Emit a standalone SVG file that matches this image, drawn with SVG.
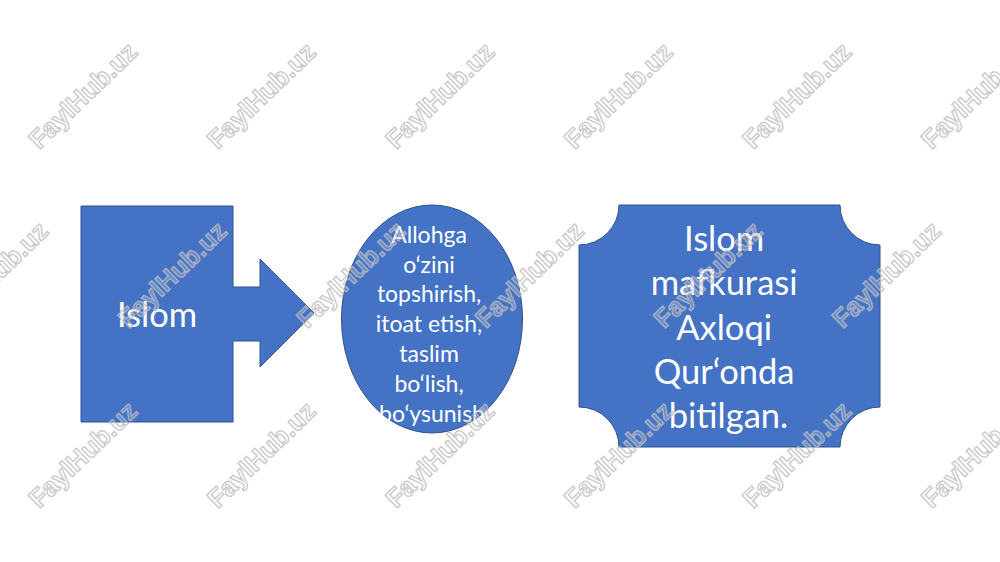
<svg xmlns="http://www.w3.org/2000/svg" width="1000" height="562" viewBox="0 0 1000 562">
<style>
.shape{fill:#4472C4;stroke:#2F528F;stroke-width:1}
.lbl{font-family:Lato,"Open Sans","Liberation Sans",sans-serif;fill:#ffffff;text-anchor:middle}
.big{font-size:34.5px}
.small{font-size:23px}
.wm{font-family:"Liberation Sans",Arial,sans-serif;font-weight:bold;font-size:26px;fill:#ffffff;fill-opacity:0.2;stroke:#bdbdbd;stroke-opacity:0.8;stroke-width:1.4;text-anchor:middle}
</style>
<rect width="1000" height="562" fill="#ffffff"/>
<g id="node-islom">
<path class="shape" d="M81,206 H233 V287 H260 V259 L314,313 L260,367 V341 H233 V422 H81 Z"/>
<text class="lbl big" x="157" y="327">Islom</text>
</g>
<g id="connectors"></g>
<g id="node-allohga">
<ellipse class="shape" cx="432" cy="319" rx="90.5" ry="114"/>
<text class="lbl small">
<tspan x="432" y="242.7">Allohga</tspan>
<tspan x="432" y="272.5">o‘zini</tspan>
<tspan x="432" y="302.3">topshirish,</tspan>
<tspan x="432" y="332.1">itoat etish,</tspan>
<tspan x="432" y="361.9">taslim</tspan>
<tspan x="432" y="391.7">bo‘lish,</tspan>
<tspan x="432" y="421.5">bo‘ysunish</tspan>
</text>
</g>
<g id="node-mafkura">
<path class="shape" d="M619,205 H840 A40,40 0 0 0 880,245 V407 A40,40 0 0 0 840,447 H619 A40,40 0 0 0 579,407 V245 A40,40 0 0 0 619,205 Z"/>
<text class="lbl big">
<tspan x="728.5" y="251">Islom</tspan>
<tspan x="728.5" y="295.3">mafkurasi</tspan>
<tspan x="728.5" y="339.6">Axloqi</tspan>
<tspan x="728.5" y="383.9">Qur‘onda</tspan>
<tspan x="728.5" y="428.2">bitilgan.</tspan>
</text>
</g>
<g id="watermarks">
<text class="wm" transform="translate(89,102) rotate(-44)">FaylHub.uz</text>
<text class="wm" transform="translate(267.5,102) rotate(-44)">FaylHub.uz</text>
<text class="wm" transform="translate(446,102) rotate(-44)">FaylHub.uz</text>
<text class="wm" transform="translate(624.5,102) rotate(-44)">FaylHub.uz</text>
<text class="wm" transform="translate(803,102) rotate(-44)">FaylHub.uz</text>
<text class="wm" transform="translate(981.5,102) rotate(-44)">FaylHub.uz</text>
<text class="wm" transform="translate(0,281) rotate(-44)">FaylHub.uz</text>
<text class="wm" transform="translate(178.5,281) rotate(-44)">FaylHub.uz</text>
<text class="wm" transform="translate(357,281) rotate(-44)">FaylHub.uz</text>
<text class="wm" transform="translate(535.5,281) rotate(-44)">FaylHub.uz</text>
<text class="wm" transform="translate(714,281) rotate(-44)">FaylHub.uz</text>
<text class="wm" transform="translate(892.5,281) rotate(-44)">FaylHub.uz</text>
<text class="wm" transform="translate(89,461) rotate(-44)">FaylHub.uz</text>
<text class="wm" transform="translate(267.5,461) rotate(-44)">FaylHub.uz</text>
<text class="wm" transform="translate(446,461) rotate(-44)">FaylHub.uz</text>
<text class="wm" transform="translate(624.5,461) rotate(-44)">FaylHub.uz</text>
<text class="wm" transform="translate(803,461) rotate(-44)">FaylHub.uz</text>
<text class="wm" transform="translate(981.5,461) rotate(-44)">FaylHub.uz</text>
</g>
</svg>
